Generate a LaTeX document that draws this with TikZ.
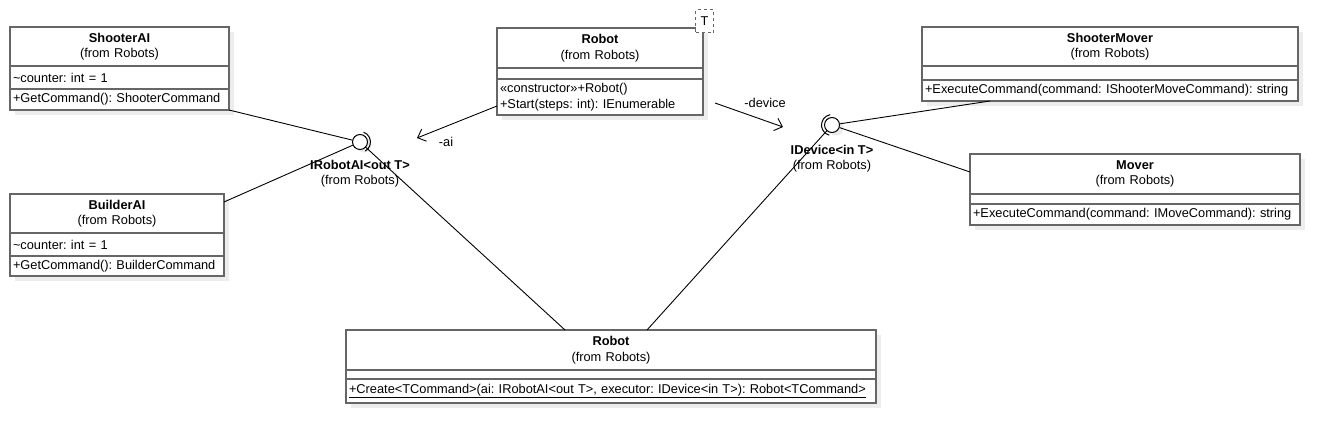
\documentclass[tikz,border=0pt]{standalone}
\usepackage{fontspec}
\setmainfont{Liberation Sans}
\usetikzlibrary{positioning,calc,shadows,arrows.meta}
\frenchspacing

\begin{document}
\begin{tikzpicture}[
    x=1pt, y=-1pt,
    node distance=0pt,
    every node/.style={font=\fontsize{12.8}{15.5}\selectfont},
    boxshadow/.style={drop shadow={shadow xshift=5pt, shadow yshift=-5pt, fill=black!7, opacity=1}},
    head/.style={draw=black!60, line width=1.1pt, fill=white, boxshadow, outer sep=0pt,
        text width=#1, inner xsep=3pt, inner ysep=0pt, align=center, minimum height=39pt},
    part/.style={draw=black!60, line width=1.1pt, fill=white, boxshadow, outer sep=0pt,
        text width=#1, inner xsep=3pt, inner ysep=0pt, align=left, minimum height=23pt},
    tparam/.style={draw=black!60, dashed, line width=1pt, fill=white, minimum width=18pt,
        minimum height=23pt, inner sep=0pt},
    lolli/.style={circle, draw, line width=1pt, fill=white, minimum size=15pt, inner sep=0pt,
        drop shadow={shadow xshift=4pt, shadow yshift=-3pt, fill=black!8, opacity=1}},
    socket/.style={line width=1pt},
    ilabel/.style={align=center, inner sep=0pt},
    link/.style={line width=0.9pt},
    arrow/.style={->, >={Straight Barb[length=7pt,width=13pt]}, line width=0.9pt}
]
    \fill[white] (0,0) rectangle (1340,442);
    \useasboundingbox (0,0) rectangle (1340,442);

    % Classes on the left
    \node[head=213pt, anchor=north west] (sAIhead) at (10,27) {\textbf{ShooterAI}\\(from Robots)};
    \node[part=213pt, below=of sAIhead] (sAIattr) {\textasciitilde counter: int = 1};
    \node[part=213pt, below=of sAIattr, minimum height=21pt] (sAIops) {\mbox{+GetCommand(): ShooterCommand}};

    \node[head=208pt, anchor=north west] (bAIhead) at (10,194) {\textbf{BuilderAI}\\(from Robots)};
    \node[part=208pt, below=of bAIhead] (bAIattr) {\textasciitilde counter: int = 1};
    \node[part=208pt, below=of bAIattr, minimum height=20pt] (bAIops) {\mbox{+GetCommand(): BuilderCommand}};

    % Generic Robot class
    \node[head=200pt, anchor=north west, minimum height=40pt] (robotHead) at (497,28) {\textbf{Robot}\\(from Robots)};
    \node[part=200pt, below=of robotHead, minimum height=11pt] (robotAttr) {};
    \node[part=200pt, below=of robotAttr, minimum height=36pt] (robotOps) {«constructor»+Robot()\\+Start(steps: int): IEnumerable};
    \node[tparam, anchor=north west] (tParam) at (695,9) {T};

    % Movers on the right
    \node[head=370pt, anchor=north west] (sMovHead) at (922,27) {\textbf{ShooterMover}\\(from Robots)};
    \node[part=370pt, below=of sMovHead, minimum height=14pt] (sMovAttr) {};
    \node[part=370pt, below=of sMovAttr, minimum height=21pt] (sMovOps) {\mbox{+ExecuteCommand(command: IShooterMoveCommand): string}};

    \node[head=324pt, anchor=north west, minimum height=40pt] (movHead) at (970,154) {\textbf{Mover}\\(from Robots)};
    \node[part=324pt, below=of movHead, minimum height=10pt] (movAttr) {};
    \node[part=324pt, below=of movAttr, minimum height=21pt] (movOps) {\mbox{+ExecuteCommand(command: IMoveCommand): string}};

    % Static Robot class
    \node[head=524pt, anchor=north west, minimum height=40pt] (botHead) at (346,330) {\textbf{Robot}\\(from Robots)};
    \node[part=524pt, below=of botHead, minimum height=9pt] (botAttr) {};
    \node[part=524pt, below=of botAttr, minimum height=24pt] (botOps) {\raisebox{2pt}{\underline{+Create<TCommand>(ai: IRobotAI<out T>, executor: IDevice<in T>): Robot<TCommand>}}};

    % Interfaces
    \node[lolli] (iRobotAI) at (360,142) {};
    \draw[socket] (iRobotAI.center) ++(70:10.5pt) arc[start angle=70, end angle=-60, radius=10.5pt];
    \node[ilabel, below=10pt of iRobotAI] (iRobotAIlbl) {\textbf{IRobotAI<out T>}\\(from Robots)};

    \node[lolli] (iDevice) at (832,125) {};
    \draw[socket] (iDevice.center) ++(100:10.5pt) arc[start angle=100, end angle=255, radius=10.5pt];
    \node[ilabel, below=12pt of iDevice] (iDevicelbl) {\textbf{IDevice<in T>}\\(from Robots)};

    % Connectors
    \draw[link] (sAIops.south east) -- (iRobotAI);
    \draw[link] ([yshift=-8pt]bAIhead.north east) -- (iRobotAI);
    \draw[link] (iRobotAI) -- ([xshift=-46pt]botHead.north);
    \draw[link] (iDevice) -- ([xshift=36pt]botHead.north);
    \draw[link] (iDevice) -- ([xshift=68pt]sMovOps.south west);
    \draw[link] (iDevice) -- ([yshift=2pt]movHead.west);

    % Associations
    \coordinate (aiTip) at (417,138);
    \coordinate (devStart) at (715,103);
    \coordinate (devTip) at (783,127);
    \draw[arrow] ([yshift=-9pt]robotOps.west) -- (aiTip);
    \draw[arrow] (devStart) -- (devTip);
    \node (aiLbl) at (446,142) {-ai};
    \node (devLbl) at (765,103) {-device};
\end{tikzpicture}
\end{document}
